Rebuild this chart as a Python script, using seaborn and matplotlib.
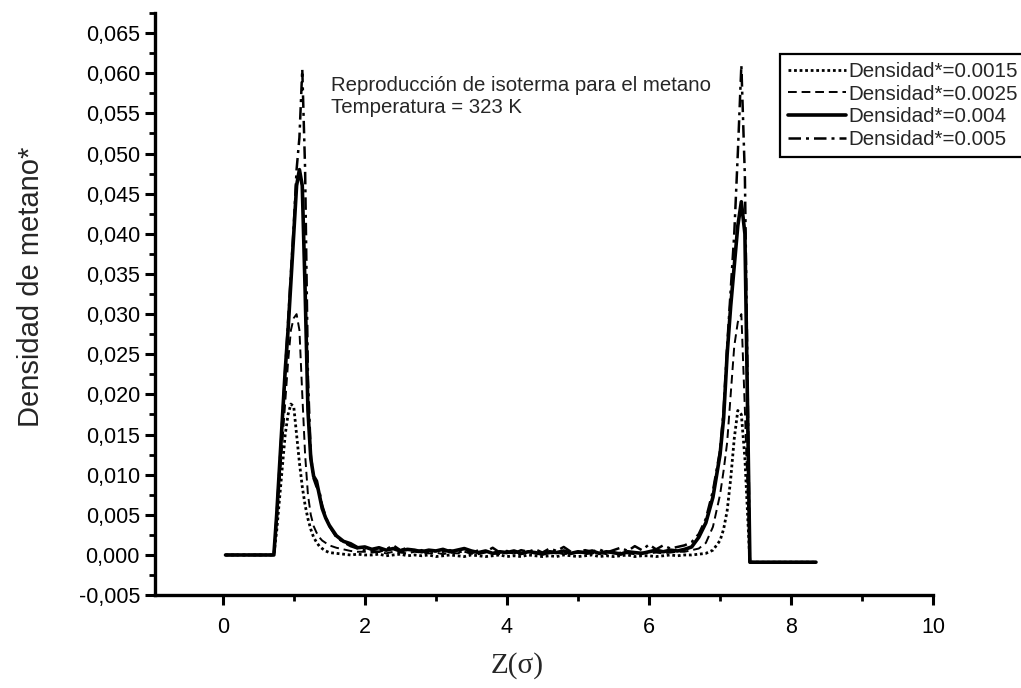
import matplotlib
matplotlib.use("Agg")
import pandas
import seaborn as sea
from matplotlib import pyplot
from matplotlib.ticker import FuncFormatter, MultipleLocator

# position along the pore, Z(sigma)
z = [0.04, 0.72,
     0.76, 0.8, 0.84, 0.88, 0.92, 0.96, 1.0, 1.04, 1.08, 1.12, 1.16, 1.2,
     1.24, 1.28, 1.32, 1.36, 1.4, 1.45, 1.5,
     1.6, 1.7, 1.8, 1.9, 2.0,
     2.1, 2.2, 2.3, 2.4, 2.5, 2.6, 2.7, 2.8, 2.9, 3.0,
     3.1, 3.2, 3.3, 3.4, 3.5, 3.6, 3.7, 3.8, 3.9, 4.0,
     4.1, 4.2, 4.3, 4.4, 4.5, 4.6, 4.7, 4.8, 4.9, 5.0,
     5.1, 5.2, 5.3, 5.4, 5.5, 5.6, 5.7, 5.8, 5.9, 6.0,
     6.1, 6.2, 6.3, 6.4, 6.5,
     6.6, 6.7, 6.8, 6.9, 7.0, 7.05, 7.1, 7.15, 7.2, 7.25, 7.3, 7.35,
     7.42, 8.35]

dens_0015 = [0.0, 0.0,
             0.003, 0.007, 0.011, 0.015, 0.0175, 0.0188, 0.0185, 0.015, 0.0115, 0.0085, 0.0062, 0.0045,
             0.0032, 0.0022, 0.0016, 0.0011, 0.0008, 0.0005, 0.0003,
             0.0002, 0.0001, 0.0, 0.0001, 0.0,
             0.0, 0.0001, -0.0001, 0.0, 0.0001, -0.0001, 0.0, -0.0001, 0.0, -0.0002,
             -0.0001, 0.0, -0.0001, -0.0002, 0.0, -0.0001, -0.0002, -0.0001, 0.0, -0.0002,
             -0.0001, -0.0002, 0.0, -0.0001, -0.0002, -0.0001, -0.0002, 0.0, -0.0001, -0.0002,
             -0.0001, 0.0, -0.0002, -0.0001, -0.0002, -0.0001, 0.0, -0.0002, -0.0001, -0.0001,
             -0.0002, -0.0001, 0.0, -0.0001, 0.0,
             0.0, 0.0001, 0.0002, 0.0006, 0.0018, 0.0032, 0.0055, 0.0095, 0.0145, 0.018, 0.0175, 0.012,
             -0.0009, -0.0009]

dens_0025 = [0.0, 0.0,
             0.004, 0.009, 0.014, 0.019, 0.024, 0.028, 0.0295, 0.030, 0.028, 0.020, 0.0125, 0.0075,
             0.005, 0.0036, 0.0028, 0.0022, 0.0018, 0.0015, 0.0012,
             0.0009, 0.0007, 0.0005, 0.0004, 0.0004,
             0.0003, 0.0004, 0.0002, 0.0004, 0.0003, 0.0002, 0.0004, 0.0003, 0.0002, 0.0003,
             0.0001, 0.0003, 0.0002, 0.0004, 0.0002, 0.0001, 0.0003, 0.0002, 0.0001, 0.0003,
             0.0002, 0.0001, 0.0003, 0.0002, 0.0001, 0.0002, 0.0003, 0.0001, 0.0002, 0.0003,
             0.0001, 0.0002, 0.0003, 0.0001, 0.0002, 0.0003, 0.0002, 0.0001, 0.0003, 0.0002,
             0.0003, 0.0002, 0.0003, 0.0004, 0.0004,
             0.0006, 0.0008, 0.0015, 0.0035, 0.0075, 0.0105, 0.014, 0.020, 0.026, 0.029, 0.030, 0.018,
             -0.0009, -0.0009]

dens_004 = [0.0, 0.0,
            0.005, 0.011, 0.017, 0.023, 0.028, 0.034, 0.040, 0.046, 0.048, 0.046, 0.033, 0.018,
            0.012, 0.0098, 0.0092, 0.0075, 0.0058, 0.0046, 0.0037,
            0.0024, 0.0017, 0.0014, 0.0009, 0.0010,
            0.0007, 0.0009, 0.0006, 0.0008, 0.0005, 0.0007, 0.0006, 0.0004, 0.0006, 0.0005,
            0.0007, 0.0004, 0.0006, 0.0008, 0.0005, 0.0003, 0.0005, 0.0002, 0.0004, 0.0003,
            0.0005, 0.0002, 0.0004, 0.0003, 0.0001, 0.0004, 0.0003, 0.0005, 0.0002, 0.0004,
            0.0003, 0.0005, 0.0002, 0.0004, 0.0003, 0.0001, 0.0004, 0.0003, 0.0002, 0.0004,
            0.0006, 0.0004, 0.0006, 0.0005, 0.0007,
            0.0010, 0.0022, 0.0040, 0.0072, 0.0125, 0.017, 0.025, 0.031, 0.036, 0.041, 0.044, 0.040,
            -0.0009, -0.0009]

dens_005 = [0.0, 0.0,
            0.005, 0.011, 0.017, 0.023, 0.029, 0.035, 0.041, 0.048, 0.052, 0.0605, 0.048, 0.022,
            0.0125, 0.0095, 0.0085, 0.0080, 0.0062, 0.0048, 0.0036,
            0.0022, 0.0016, 0.0011, 0.0008, 0.0006,
            0.0005, 0.0004, 0.0007, 0.0012, 0.0006, 0.0009, 0.0004, 0.0006, 0.0003, 0.0005,
            0.0004, 0.0006, 0.0003, 0.0005, 0.0002, 0.0006, 0.0004, 0.0009, 0.0003, 0.0005,
            0.0002, 0.0006, 0.0004, 0.0007, 0.0003, 0.0008, 0.0005, 0.0010, 0.0004, 0.0003,
            0.0006, 0.0004, 0.0007, 0.0003, 0.0006, 0.0009, 0.0005, 0.0011, 0.0006, 0.0013,
            0.0007, 0.0012, 0.0008, 0.0010, 0.0012,
            0.0016, 0.0026, 0.0045, 0.0080, 0.013, 0.018, 0.026, 0.033, 0.040, 0.050, 0.061, 0.047,
            -0.0009, -0.0009]

labels = ["Densidad*=0.0015", "Densidad*=0.0025", "Densidad*=0.004", "Densidad*=0.005"]

sea.set_style("ticks")
pyplot.rcParams["font.family"] = ["Liberation Sans", "DejaVu Sans"]

figure = pyplot.figure(figsize=(10.21, 6.88), dpi=100)
axis = figure.add_axes([0.152, 0.135, 0.762, 0.846])

series = [dens_0015, dens_0025, dens_004, dens_005]
styles = [
    dict(linestyle=(0, (1, 1)), linewidth=2.0),
    dict(linestyle=(0, (4.5, 2.5)), linewidth=1.4),
    dict(linestyle="-", linewidth=2.6),
    dict(linestyle=(0, (5, 2, 1.2, 2)), linewidth=1.8),
]
for values, label, style in zip(series, labels, styles):
    frame = pandas.DataFrame({"z": z, "density": values})
    sea.lineplot(data=frame, x="z", y="density", ax=axis, color="black",
                 label=label, **style)

axis.set_xlim(-0.95, 10)
axis.set_ylim(-0.005, 0.0675)
axis.xaxis.set_major_locator(MultipleLocator(2))
axis.xaxis.set_minor_locator(MultipleLocator(1))
axis.yaxis.set_major_locator(MultipleLocator(0.005))
axis.yaxis.set_minor_locator(MultipleLocator(0.0025))
axis.yaxis.set_major_formatter(
    FuncFormatter(lambda v, pos: f"{v:.3f}".replace(".", ",").replace("-0,000", "0,000"))
)
axis.xaxis.set_major_formatter(FuncFormatter(lambda v, pos: f"{v:.0f}"))

for side in ["top", "right"]:
    axis.spines[side].set_visible(False)
for side in ["left", "bottom"]:
    axis.spines[side].set_linewidth(2.4)
    axis.spines[side].set_color("black")

axis.tick_params(which="major", direction="out", length=7, width=2.2,
                 labelsize=15.5, colors="black")
axis.tick_params(which="minor", direction="out", length=4, width=2.0, colors="black")
axis.tick_params(axis="x", which="major", pad=9)
axis.tick_params(axis="y", which="major", pad=4)

axis.set_xlabel("")
axis.set_ylabel("")
figure.text(0.030, 0.583, "Densidad de metano*", rotation=90, ha="center",
            va="center", fontsize=21)
figure.text(0.506, 0.033, "Z(σ)", ha="center", va="center", fontsize=21,
            family=["Liberation Serif", "DejaVu Serif"])

axis.text(1.52, 0.0597, "Reproducción de isoterma para el metano\nTemperatura = 323 K",
          ha="left", va="top", fontsize=14.7, linespacing=1.2)

legend = axis.legend(loc="upper left", bbox_to_anchor=(0.764, 0.922),
                     bbox_transform=figure.transFigure, fontsize=14.8,
                     handlelength=2.8, handletextpad=0.1, borderpad=0.4,
                     labelspacing=0.18, borderaxespad=0, fancybox=False,
                     framealpha=1)
legend.get_frame().set_edgecolor("black")
legend.get_frame().set_linewidth(1.6)

figure.savefig("out.png", dpi=100)
